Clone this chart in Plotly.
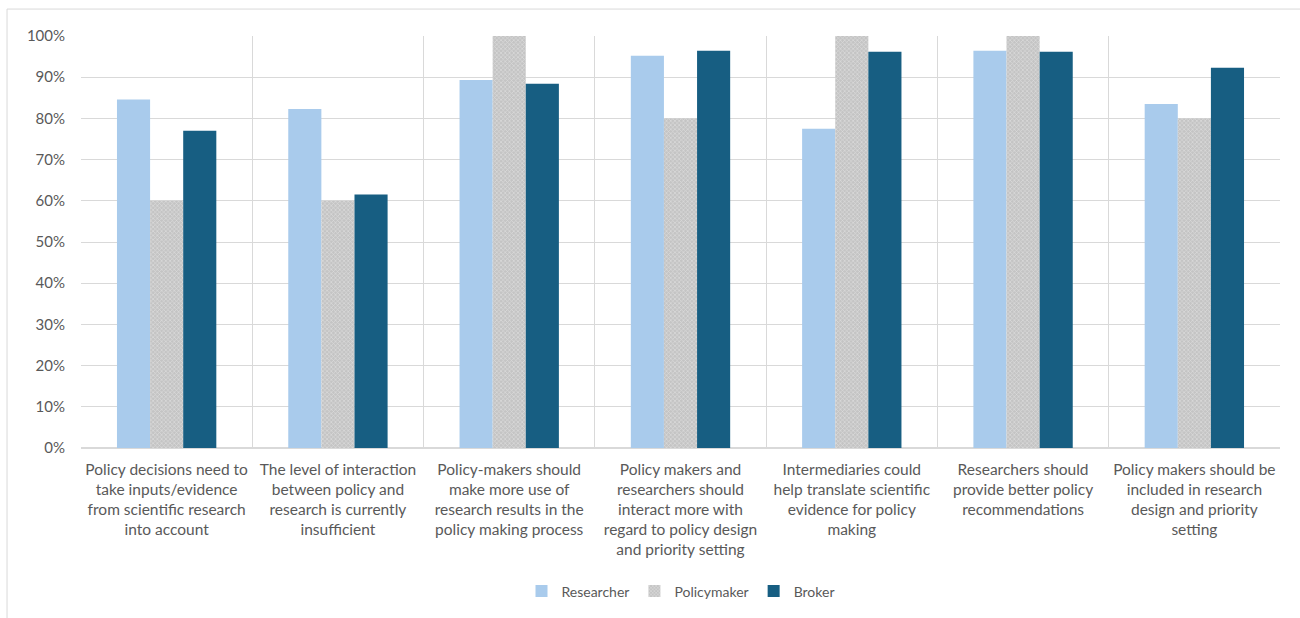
import plotly.graph_objects as go

# Survey statements (category axis), with manual line breaks
categories = [
    "Policy decisions need to<br>take inputs/evidence<br>from scientific research<br>into account",
    "The level of interaction<br>between policy and<br>research is currently<br>insufficient",
    "Policy-makers should<br>make more use of<br>research results in the<br>policy making process",
    "Policy makers and<br>researchers should<br>interact more with<br>regard to policy design<br>and priority setting",
    "Intermediaries could<br>help translate scientific<br>evidence for policy<br>making",
    "Researchers should<br>provide better policy<br>recommendations",
    "Policy makers should be<br>included in research<br>design and priority<br>setting",
]

# Share of respondents agreeing, in percent
researcher = [84.6, 82.3, 89.3, 95.2, 77.5, 96.4, 83.5]
policymaker = [60, 60, 100, 80, 100, 100, 80]
broker = [77.0, 61.5, 88.4, 96.4, 96.2, 96.2, 92.3]

FONT = "Lato"
TEXT = "#595959"
GRID = "#d9d9d9"

fig = go.Figure()
fig.add_trace(go.Bar(name="Researcher", x=categories, y=researcher,
                     marker=dict(color="#a9cbec", line=dict(width=0))))
fig.add_trace(go.Bar(name="Policymaker", x=categories, y=policymaker,
                     marker=dict(color="#d4d4d4", line=dict(width=0),
                                 pattern=dict(shape="x", fgcolor="#f4f4f4",
                                              bgcolor="#c4c4c4", size=3,
                                              solidity=0.4))))
fig.add_trace(go.Bar(name="Broker", x=categories, y=broker,
                     marker=dict(color="#175e82", line=dict(width=0))))

# Outer chart frame (paper coordinates extend past the plot area)
fig.add_shape(type="rect", xref="paper", yref="paper",
              x0=-0.0617, x1=1.03, y0=-0.45, y1=1.0654,
              line=dict(color=GRID, width=1), fillcolor="rgba(0,0,0,0)",
              layer="below")

fig.update_layout(
    width=1300, height=618,
    margin=dict(l=81, r=20, t=36, b=169),
    paper_bgcolor="white", plot_bgcolor="white",
    barmode="group", bargap=0.42, bargroupgap=0,
    font=dict(family=FONT, size=15, color=TEXT),
    legend=dict(orientation="h", x=0.5, xanchor="center", y=-0.345,
                yanchor="middle", font=dict(size=14, color=TEXT),
                itemwidth=30, traceorder="normal"),
    xaxis=dict(type="category", tickson="boundaries", showgrid=True,
               gridcolor=GRID, gridwidth=1, ticks="", showline=False,
               tickfont=dict(size=15.5, color=TEXT), tickangle=0,
               ticklabelstandoff=10),
    yaxis=dict(range=[0, 100], dtick=10, ticksuffix="%", showgrid=True,
               gridcolor=GRID, gridwidth=1, zeroline=True, zerolinecolor=GRID,
               ticks="", tickfont=dict(size=15, color=TEXT),
               ticklabelstandoff=15),
)

fig.write_html("out.html")
